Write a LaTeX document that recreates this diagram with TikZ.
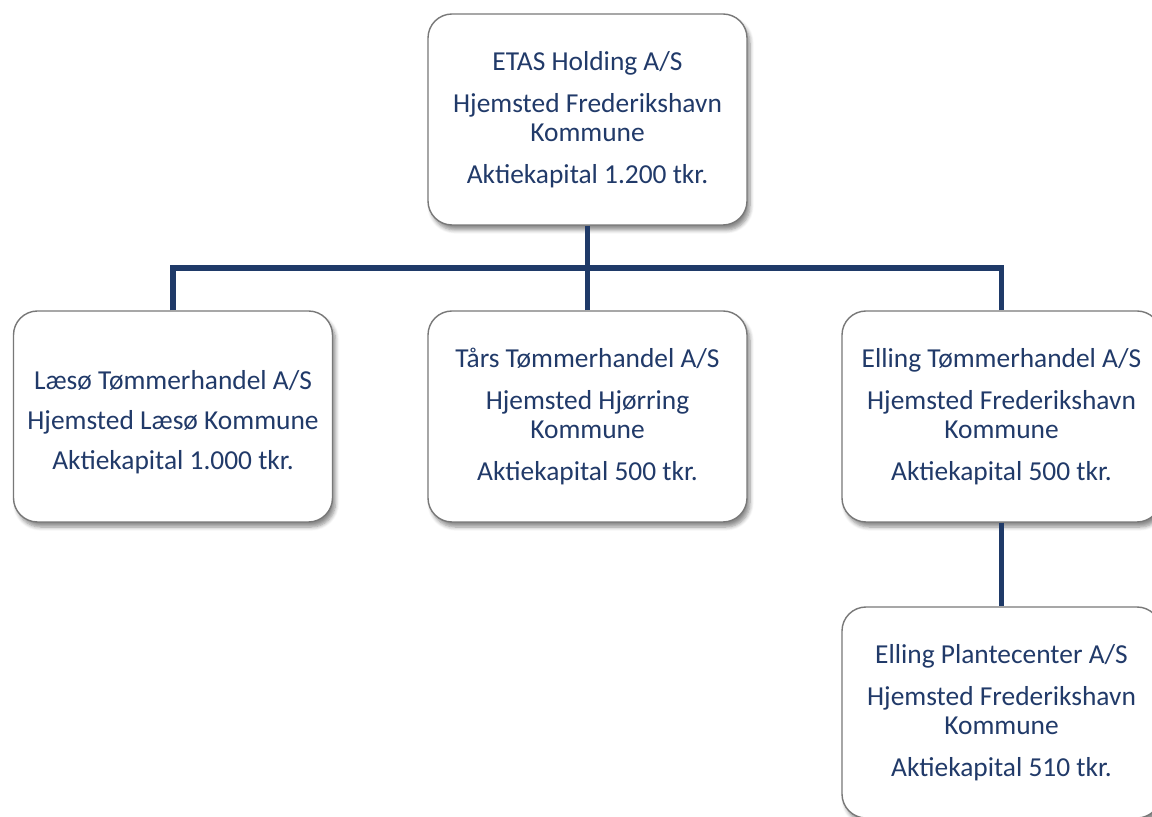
\documentclass[tikz,border=0pt]{standalone}
\usepackage{fontspec}
\setmainfont{Carlito}
\usetikzlibrary{shadows.blur}
\definecolor{navy}{RGB}{31,58,104}
\definecolor{txt}{RGB}{33,58,105}
\definecolor{edge}{RGB}{120,120,120}
\tikzset{
  orgbox/.style={draw=edge, line width=0.7pt, fill=white, rounded corners=12pt,
    minimum width=159.5pt, minimum height=105.5pt, align=center, text=txt,
    font=\fontsize{13.7}{14.6}\selectfont, inner sep=0pt,
    blur shadow={shadow xshift=1.5pt, shadow yshift=-2.5pt, shadow blur steps=6, shadow opacity=45}},
  link/.style={draw=navy, line width=2.6pt}
}
\begin{document}
\begin{tikzpicture}[x=0.5pt,y=-0.5pt]
\useasboundingbox (0,0) rectangle (1152,817);
\node[orgbox] (top) at (587.5,119.5) {ETAS Holding A/S\\[6.3pt]Hjemsted Frederikshavn\\Kommune\\[6.3pt]Aktiekapital 1.200 tkr.};
\node[orgbox] (left) at (173,416.5) {\rule{0pt}{15pt}Læsø Tømmerhandel A/S\\[5.5pt]Hjemsted Læsø Kommune\\[5.5pt]Aktiekapital 1.000 tkr.};
\node[orgbox] (mid) at (587.5,416.5) {Tårs Tømmerhandel A/S\\[6.3pt]Hjemsted Hjørring\\Kommune\\[6.3pt]Aktiekapital 500 tkr.};
\node[orgbox] (right) at (1001.5,416.5) {Elling Tømmerhandel A/S\\[6.3pt]Hjemsted Frederikshavn\\Kommune\\[6.3pt]Aktiekapital 500 tkr.};
\node[orgbox] (bottom) at (1001.5,712.5) {Elling Plantecenter A/S\\[6.3pt]Hjemsted Frederikshavn\\Kommune\\[6.3pt]Aktiekapital 510 tkr.};
\coordinate (bus) at (587.5,268);
\draw[link] (top.south) -- (bus);
\draw[link] (mid.north) -- (bus);
\draw[link] (left.north) |- (bus);
\draw[link] (right.north) |- (bus);
\draw[link] (right.south) -- (bottom.north);
\end{tikzpicture}
\end{document}
